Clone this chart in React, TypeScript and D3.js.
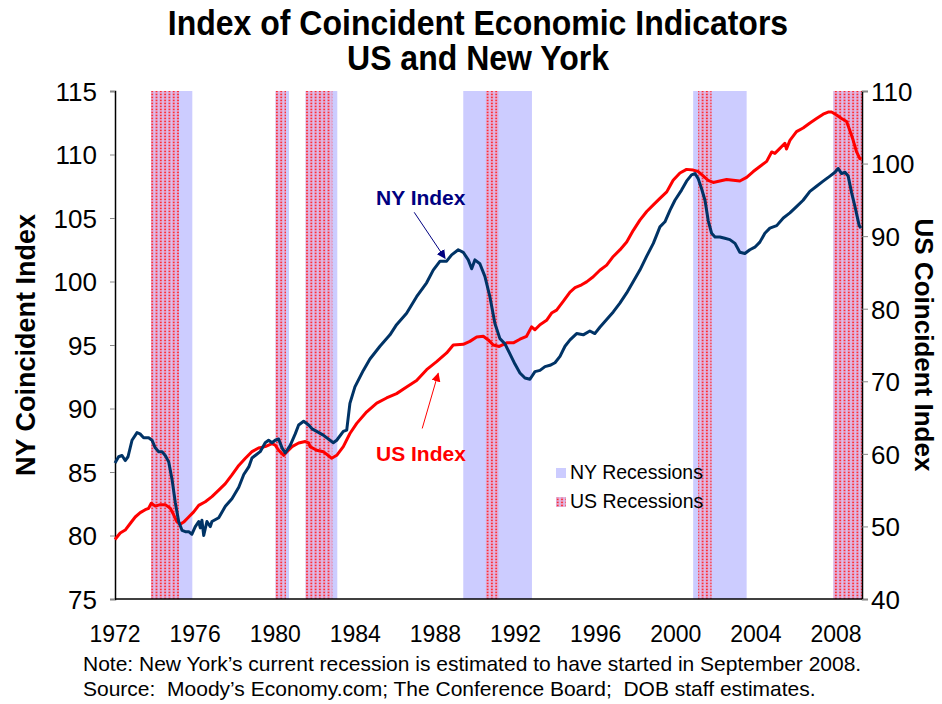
import React, { useEffect, useRef } from 'react';
import * as d3 from 'd3';

// [decimal year, index]
const nyIndex: [number, number][] = [
  [1972.0, 85.7], [1972.18, 86.2], [1972.35, 86.3], [1972.51, 85.9], [1972.65, 86.2], [1972.85, 87.5],
  [1973.1, 88.1], [1973.25, 88.0], [1973.43, 87.7], [1973.68, 87.7], [1973.85, 87.5], [1974.01, 86.9],
  [1974.18, 86.6], [1974.35, 86.6], [1974.51, 86.3], [1974.68, 85.8], [1974.85, 84.4], [1975.01, 82.6],
  [1975.18, 81.1], [1975.35, 80.4], [1975.51, 80.3], [1975.68, 80.3], [1975.84, 80.1], [1976.01, 80.7],
  [1976.18, 81.1], [1976.26, 80.6], [1976.34, 81.2], [1976.43, 80.0], [1976.59, 81.1], [1976.76, 80.7],
  [1976.84, 81.1], [1977.18, 81.4], [1977.51, 82.3], [1977.84, 82.9], [1978.18, 83.8], [1978.43, 84.8],
  [1978.68, 85.4], [1978.84, 86.1], [1979.0, 86.3], [1979.25, 86.6], [1979.5, 87.3], [1979.67, 87.5],
  [1979.84, 87.3], [1980.0, 87.5], [1980.17, 87.6], [1980.34, 86.9], [1980.5, 86.5], [1980.75, 87.1],
  [1981.0, 88.0], [1981.17, 88.7], [1981.42, 89.0], [1981.67, 88.7], [1981.84, 88.4], [1982.07, 88.2],
  [1982.4, 87.9], [1982.9, 87.3], [1983.07, 87.5], [1983.4, 88.2], [1983.57, 88.3], [1983.73, 90.4],
  [1983.98, 91.7], [1984.4, 93.0], [1984.73, 93.9], [1985.23, 94.9], [1985.73, 95.8], [1986.06, 96.6],
  [1986.56, 97.5], [1987.06, 98.8], [1987.56, 99.9], [1987.89, 100.9], [1988.23, 101.6], [1988.56, 101.6],
  [1988.81, 102.1], [1989.14, 102.5], [1989.39, 102.3], [1989.64, 101.7], [1989.81, 101.0], [1989.97, 101.7],
  [1990.22, 101.4], [1990.47, 100.4], [1990.72, 98.8], [1990.97, 96.7], [1991.22, 95.5], [1991.47, 95.1],
  [1991.72, 94.3], [1991.97, 93.5], [1992.22, 92.8], [1992.47, 92.4], [1992.72, 92.3], [1992.97, 92.9],
  [1993.22, 93.0], [1993.47, 93.3], [1993.72, 93.4], [1993.97, 93.6], [1994.22, 94.1], [1994.47, 94.9],
  [1994.72, 95.4], [1995.05, 95.9], [1995.38, 95.8], [1995.71, 96.1], [1995.96, 95.9], [1996.21, 96.4],
  [1996.55, 97.0], [1996.88, 97.6], [1997.21, 98.3], [1997.55, 99.1], [1997.88, 100.0], [1998.21, 100.9],
  [1998.55, 102.0], [1998.88, 103.0], [1999.21, 104.3], [1999.46, 104.7], [1999.71, 105.6], [1999.96, 106.4],
  [2000.29, 107.2], [2000.54, 107.9], [2000.79, 108.4], [2000.96, 108.5], [2001.12, 108.1], [2001.29, 107.3],
  [2001.46, 106.4], [2001.62, 104.8], [2001.79, 103.8], [2001.96, 103.5], [2002.2, 103.5], [2002.45, 103.4],
  [2002.7, 103.3], [2002.96, 103.0], [2003.2, 102.3], [2003.45, 102.2], [2003.7, 102.5], [2003.95, 102.7],
  [2004.2, 103.1], [2004.45, 103.8], [2004.7, 104.2], [2005.04, 104.4], [2005.37, 105.0], [2005.7, 105.4],
  [2006.03, 105.9], [2006.36, 106.4], [2006.7, 107.1], [2007.03, 107.5], [2007.36, 107.9], [2007.7, 108.3],
  [2007.95, 108.6], [2008.11, 108.9], [2008.28, 108.5], [2008.45, 108.6], [2008.61, 108.3], [2008.78, 107.0],
  [2008.95, 105.9], [2009.16, 104.4], [2009.25, 104.2],
];

const usIndex: [number, number][] = [
  [1972.0, 48.2], [1972.26, 49.1], [1972.51, 49.5], [1972.76, 50.4], [1973.01, 51.3], [1973.26, 51.9],
  [1973.51, 52.3], [1973.68, 52.5], [1973.81, 53.2], [1974.01, 52.8], [1974.26, 53.0], [1974.51, 53.0],
  [1974.76, 52.5], [1974.93, 51.6], [1975.1, 50.6], [1975.26, 50.3], [1975.43, 50.6], [1975.68, 51.3],
  [1975.93, 52.0], [1976.18, 52.9], [1976.51, 53.4], [1976.84, 54.1], [1977.18, 55.0], [1977.51, 55.9],
  [1977.84, 57.1], [1978.18, 58.4], [1978.51, 59.4], [1978.84, 60.3], [1979.17, 60.8], [1979.5, 61.0],
  [1979.84, 61.4], [1980.0, 61.2], [1980.17, 60.5], [1980.42, 59.8], [1980.59, 60.3], [1980.84, 61.0],
  [1981.17, 61.5], [1981.5, 61.7], [1981.67, 61.5], [1981.74, 61.0], [1982.07, 60.5], [1982.4, 60.3],
  [1982.82, 59.4], [1983.07, 59.8], [1983.4, 61.0], [1983.73, 62.8], [1984.07, 64.2], [1984.57, 65.8],
  [1985.07, 67.0], [1985.56, 67.7], [1986.06, 68.3], [1986.56, 69.2], [1987.06, 70.1], [1987.56, 71.6],
  [1988.06, 72.7], [1988.56, 73.9], [1988.89, 75.0], [1989.39, 75.1], [1989.72, 75.5], [1990.06, 76.1],
  [1990.39, 76.2], [1990.64, 75.7], [1990.89, 75.0], [1991.19, 74.8], [1991.56, 75.3], [1991.89, 75.3],
  [1992.22, 75.8], [1992.55, 76.2], [1992.8, 77.5], [1992.97, 77.1], [1993.22, 77.8], [1993.55, 78.4],
  [1993.8, 79.4], [1994.05, 79.8], [1994.38, 81.0], [1994.72, 82.3], [1994.97, 82.9], [1995.3, 83.3],
  [1995.55, 83.7], [1995.88, 84.4], [1996.21, 85.3], [1996.55, 86.0], [1996.88, 87.2], [1997.21, 88.1],
  [1997.55, 89.2], [1997.88, 90.8], [1998.21, 92.2], [1998.55, 93.4], [1998.88, 94.3], [1999.21, 95.2],
  [1999.55, 96.1], [1999.87, 97.7], [2000.21, 98.7], [2000.54, 99.2], [2000.87, 99.1], [2001.12, 98.9],
  [2001.37, 98.3], [2001.62, 97.7], [2001.87, 97.4], [2002.2, 97.6], [2002.54, 97.8], [2002.87, 97.7],
  [2003.2, 97.6], [2003.54, 98.1], [2003.87, 98.9], [2004.2, 99.6], [2004.54, 100.3], [2004.79, 101.6],
  [2004.95, 101.4], [2005.2, 102.1], [2005.45, 102.8], [2005.53, 102.0], [2005.7, 103.2], [2006.03, 104.4],
  [2006.36, 104.9], [2006.7, 105.6], [2007.03, 106.2], [2007.36, 106.8], [2007.61, 107.1], [2007.78, 107.1],
  [2008.03, 106.7], [2008.28, 106.2], [2008.53, 105.8], [2008.69, 104.6], [2008.86, 103.2], [2009.03, 101.6],
  [2009.19, 100.7], [2009.28, 100.6],
];

const nyRecessions: [number, number][] = [
  [1973.8, 1975.86], [1980.02, 1980.69], [1981.52, 1983.1], [1989.39, 1992.82], [2000.87, 2003.54], [2008.67, 2009.3],
];
const usRecessions: [number, number][] = [
  [1973.8, 1975.2], [1980.02, 1980.54], [1981.52, 1982.85], [1990.51, 1991.17], [2001.12, 2001.79], [2007.86, 2009.3],
];

const yearTicks = [1972, 1976, 1980, 1984, 1988, 1992, 1996, 2000, 2004, 2008];
const nyTicks = [75, 80, 85, 90, 95, 100, 105, 110, 115];
const usTicks = [40, 50, 60, 70, 80, 90, 100, 110];

const FONT = '"Liberation Sans", Arial, sans-serif';

function Chart() {
  const ref = useRef<SVGSVGElement>(null);

  useEffect(() => {
    const width = 942;
    const height = 704;
    const margin = { top: 91, right: 80, bottom: 105, left: 115 };
    const svg = d3.select(ref.current);
    svg.selectAll('*').remove();

    const x = d3.scaleLinear().domain([1972, 2009.3]).range([margin.left, width - margin.right]);
    const yL = d3.scaleLinear().domain([75, 115]).range([height - margin.bottom, margin.top]);
    const yR = d3.scaleLinear().domain([40, 110]).range([height - margin.bottom, margin.top]);
    const top = margin.top;
    const bottom = height - margin.bottom;

    const defs = svg.append('defs');
    const pat = defs.append('pattern')
      .attr('id', 'usrec')
      .attr('patternUnits', 'userSpaceOnUse')
      .attr('width', 4.3)
      .attr('height', 3);
    pat.append('rect').attr('width', 4.3).attr('height', 3).attr('fill', '#d9c0ee');
    pat.append('rect').attr('x', 0.4).attr('y', 0.2).attr('width', 2.6).attr('height', 2.4).attr('fill', '#f08cb0');
    pat.append('rect').attr('x', 1).attr('y', 0.8).attr('width', 1.4).attr('height', 1.3).attr('fill', '#ff1a1a');

    defs.append('marker')
      .attr('id', 'arrNY').attr('viewBox', '0 0 10 10').attr('refX', 9).attr('refY', 5)
      .attr('markerWidth', 9).attr('markerHeight', 9).attr('orient', 'auto').attr('markerUnits', 'userSpaceOnUse')
      .append('path').attr('d', 'M0,0L10,5L0,10z').attr('fill', '#000080');
    defs.append('marker')
      .attr('id', 'arrUS').attr('viewBox', '0 0 10 10').attr('refX', 9).attr('refY', 5)
      .attr('markerWidth', 9).attr('markerHeight', 9).attr('orient', 'auto').attr('markerUnits', 'userSpaceOnUse')
      .append('path').attr('d', 'M0,0L10,5L0,10z').attr('fill', '#ff0000');

    // recession bands
    svg.append('g').selectAll('rect').data(nyRecessions).join('rect')
      .attr('x', (d) => x(d[0]))
      .attr('width', (d) => x(d[1]) - x(d[0]))
      .attr('y', top).attr('height', bottom - top)
      .attr('fill', '#ccccff');
    svg.append('g').selectAll('rect').data(usRecessions).join('rect')
      .attr('x', (d) => x(d[0]))
      .attr('width', (d) => x(d[1]) - x(d[0]))
      .attr('y', top).attr('height', bottom - top)
      .attr('fill', 'url(#usrec)');

    // axes
    svg.append('line').attr('x1', x(1972)).attr('x2', x(2009.3)).attr('y1', bottom).attr('y2', bottom)
      .attr('stroke', '#000').attr('stroke-width', 1.5);

    const left = svg.append('g').attr('transform', `translate(${x(1972)},0)`)
      .call(d3.axisLeft(yL).tickValues(nyTicks).tickSize(5).tickPadding(13).tickFormat(d3.format('d')));
    const right = svg.append('g').attr('transform', `translate(${x(2009.3)},0)`)
      .call(d3.axisRight(yR).tickValues(usTicks).tickSize(6).tickPadding(3).tickFormat(d3.format('d')));
    [left, right].forEach((g) => {
      g.select('.domain').attr('stroke', '#000').attr('stroke-width', 1.5);
      g.selectAll('.tick line').attr('stroke', '#888');
      g.selectAll('.tick text').attr('font-family', FONT).attr('font-size', 26).attr('fill', '#000').attr('dy', '0.36em');
    });

    svg.append('g').selectAll('text').data(yearTicks).join('text')
      .attr('x', (d) => x(d))
      .attr('y', 642)
      .attr('text-anchor', 'middle')
      .attr('font-family', FONT).attr('font-size', 23)
      .text((d) => d);

    // series
    const lineNY = d3.line<[number, number]>().x((d) => x(d[0])).y((d) => yL(d[1]));
    const lineUS = d3.line<[number, number]>().x((d) => x(d[0])).y((d) => yR(d[1]));
    svg.append('path').datum(usIndex).attr('fill', 'none').attr('stroke', '#ff0000')
      .attr('stroke-width', 3).attr('stroke-linejoin', 'round').attr('d', lineUS);
    svg.append('path').datum(nyIndex).attr('fill', 'none').attr('stroke', '#003366')
      .attr('stroke-width', 3).attr('stroke-linejoin', 'round').attr('d', lineNY);

    // annotations
    svg.append('text').attr('x', 376).attr('y', 205).attr('font-family', FONT).attr('font-size', 21)
      .attr('font-weight', 'bold').attr('fill', '#000080').text('NY Index');
    svg.append('line').attr('x1', x(1986.94)).attr('y1', yL(105.45)).attr('x2', x(1988.48)).attr('y2', yL(101.83))
      .attr('stroke', '#000080').attr('stroke-width', 1).attr('marker-end', 'url(#arrNY)');
    svg.append('text').attr('x', 376).attr('y', 461).attr('font-family', FONT).attr('font-size', 21)
      .attr('font-weight', 'bold').attr('fill', '#ff0000').text('US Index');
    svg.append('line').attr('x1', x(1987.34)).attr('y1', yR(63.5)).attr('x2', x(1988.14)).attr('y2', yR(71.1))
      .attr('stroke', '#ff0000').attr('stroke-width', 1).attr('marker-end', 'url(#arrUS)');

    // legend
    const legend = svg.append('g').attr('transform', 'translate(556,468)');
    const items = [{ label: 'NY Recessions', fill: '#ccccff' }, { label: 'US Recessions', fill: 'url(#usrec)' }];
    items.forEach((it, i) => {
      legend.append('rect').attr('x', 0).attr('y', i * 29).attr('width', 10).attr('height', 10).attr('fill', it.fill);
      legend.append('text').attr('x', 14).attr('y', i * 29 + 11).attr('font-family', FONT).attr('font-size', 19.5)
        .text(it.label);
    });

    // titles
    svg.append('text').attr('transform', 'translate(478,35) scale(1,1.1)').attr('text-anchor', 'middle')
      .attr('font-family', FONT).attr('font-size', 32).attr('font-weight', 'bold')
      .text('Index of Coincident Economic Indicators');
    svg.append('text').attr('transform', 'translate(478,70) scale(1,1.1)').attr('text-anchor', 'middle')
      .attr('font-family', FONT).attr('font-size', 32).attr('font-weight', 'bold').text('US and New York');

    svg.append('text').attr('transform', `translate(35,${(top + bottom) / 2}) rotate(-90)`).attr('text-anchor', 'middle')
      .attr('font-family', FONT).attr('font-size', 27).attr('font-weight', 'bold').text('NY Coincident Index');
    svg.append('text').attr('transform', `translate(915,${(top + bottom) / 2}) rotate(90)`).attr('text-anchor', 'middle')
      .attr('font-family', FONT).attr('font-size', 26).attr('font-weight', 'bold').text('US Coincident Index');

    svg.append('text').attr('x', 83).attr('y', 671).attr('font-family', FONT).attr('font-size', 21)
      .text('Note: New York\u2019s current recession is estimated to have started in September 2008.');
    svg.append('text').attr('x', 83).attr('y', 696).attr('font-family', FONT).attr('font-size', 21)
      .attr('xml:space', 'preserve').style('white-space', 'pre')
      .text('Source:  Moody\u2019s Economy.com; The Conference Board;  DOB staff estimates.');
  }, []);

  return <svg ref={ref} width={942} height={704} style={{ position: 'absolute', left: 0, top: 0, background: '#fff' }} />;
}

export default function App() {
  return <div><Chart /></div>;
}
